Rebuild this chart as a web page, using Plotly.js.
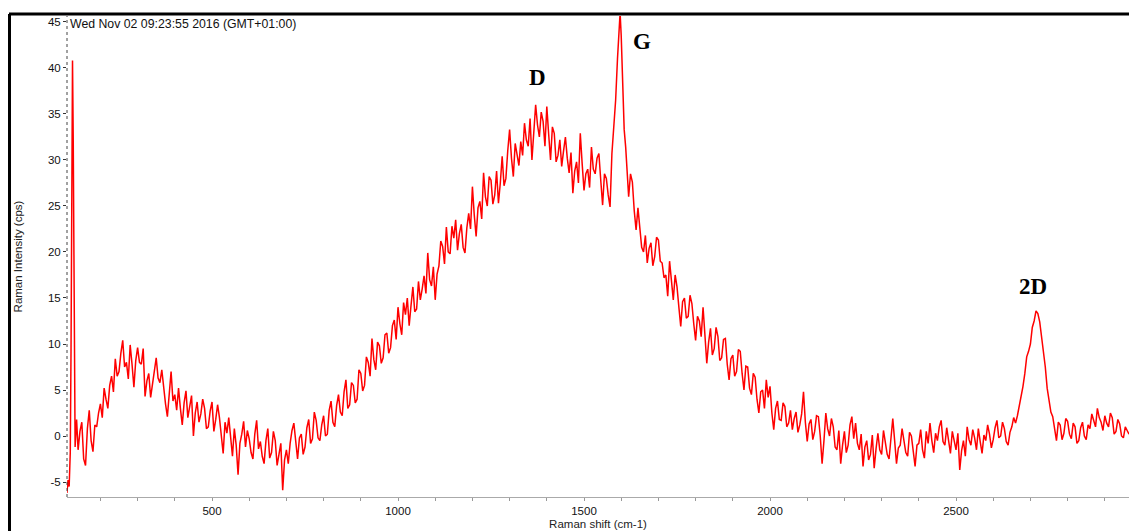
<!DOCTYPE html>
<html>
<head>
<meta charset="utf-8">
<script src="https://cdn.plot.ly/plotly-3.0.1.min.js"></script>
<style>
html,body{margin:0;padding:0;background:#fff;}
#chart{width:1129px;height:531px;}
</style>
</head>
<body>
<div id="chart"></div>
<script>
// Raman shift (cm-1)
const shift = [
110,113,116,119,121,123,125,127,129,132,136,
140,145,150,155,160,165,170,175,180,185,190,195,
200,205,210,215,220,225,230,235,240,245,250,255,260,265,270,275,280,285,290,295,
300,305,310,315,320,325,330,335,340,345,350,355,360,365,370,375,380,385,390,395,
400,405,410,415,420,425,430,435,440,445,450,455,460,465,470,475,480,485,490,495,
500,505,510,515,520,525,530,535,540,545,550,555,560,565,570,575,580,585,590,595,
600,605,610,615,620,625,630,635,640,645,650,655,660,665,670,675,680,685,690,695,
700,705,710,715,720,725,730,735,740,745,750,755,760,765,770,775,780,785,790,795,
800,805,810,815,820,825,830,835,840,845,850,855,860,865,870,875,880,885,890,895,
900,905,910,915,920,925,930,935,940,945,950,955,960,965,970,975,980,985,990,995,
1000,1005,1010,1015,1020,1025,1030,1035,1040,1045,1050,1055,1060,1065,1070,1075,1080,1085,1090,1095,
1100,1105,1110,1115,1120,1125,1130,1135,1140,1145,1150,1155,1160,1165,1170,1175,1180,1185,1190,1195,
1200,1205,1210,1215,1220,1225,1230,1235,1240,1245,1250,1255,1260,1265,1270,1275,1280,1285,1290,1295,
1300,1305,1310,1315,1320,1325,1330,1335,1340,1345,1350,1355,1360,1365,1370,1375,1380,1385,1390,1395,
1400,1405,1410,1415,1420,1425,1430,1435,1440,1445,1450,1455,1460,1465,1470,1475,1480,1485,1490,1495,
1500,1505,1510,1515,1520,1525,1530,1535,1540,1545,1550,1555,1560,1565,1570,
1575,1580,1585,1590,1594,1597,1600,1604,1608,1612,1616,
1620,1625,1630,1635,1640,1645,1650,1655,1660,1665,1670,1675,1680,1685,1690,1695,
1700,1705,1710,1715,1720,1725,1730,1735,1740,1745,1750,1755,1760,1765,1770,1775,1780,1785,1790,1795,
1800,1805,1810,1815,1820,1825,1830,1835,1840,1845,1850,1855,1860,1865,1870,1875,1880,1885,1890,1895,
1900,1905,1910,1915,1920,1925,1930,1935,1940,1945,1950,1955,1960,1965,1970,1975,1980,1985,1990,1995,
2000,2005,2010,2015,2020,2025,2030,2035,2040,2045,2050,2055,2060,2065,2070,2075,2080,2085,2090,2095,
2100,2105,2110,2115,2120,2125,2130,2135,2140,2145,2150,2155,2160,2165,2170,2175,2180,2185,2190,2195,
2200,2205,2210,2215,2220,2225,2230,2235,2240,2245,2250,2255,2260,2265,2270,2275,2280,2285,2290,2295,
2300,2305,2310,2315,2320,2325,2330,2335,2340,2345,2350,2355,2360,2365,2370,2375,2380,2385,2390,2395,
2400,2405,2410,2415,2420,2425,2430,2435,2440,2445,2450,2455,2460,2465,2470,2475,2480,2485,2490,2495,
2500,2505,2510,2515,2520,2525,2530,2535,2540,2545,2550,2555,2560,2565,2570,2575,2580,2585,2590,2595,
2600,2605,2610,2615,2620,2625,2630,2635,2640,2645,2650,2655,2660,2665,2670,2675,2680,2685,2690,2695,
2700,2705,2710,2715,2720,2725,2730,2735,2740,2745,2750,2755,2760,2765,2770,2775,2780,2785,2790,2795,
2800,2805,2810,2815,2820,2825,2830,2835,2840,2845,2850,2855,2860,2865,2870,2875,2880,2885,2890,2895,
2900,2905,2910,2915,2920,2925,2930,2935,2940,2945,2950,2955,2960,2965];

// Raman intensity (cps)
const intensity = [
-6.2,-4.8,-5.5,-1.8,9.2,26,40.8,32,20,-1.2,1.8,
-1.5,0.5,1.5,-2.5,-3.2,0.8,2.8,-0.5,-1.7,1.2,1.0,2.5,
3.5,2.0,5.2,4.0,3.0,5.5,6.5,4.8,8.4,6.5,7.0,9.0,10.4,7.5,8.0,6.2,9.9,7.8,5.3,8.2,
9.6,8.0,7.8,9.5,4.3,6.0,6.8,4.2,5.5,7.0,8.5,6.3,5.8,7.2,5.0,3.5,2.1,4.8,7.0,3.8,
4.5,2.8,5.2,3.0,1.2,3.6,4.9,2.0,3.2,4.4,0.0,2.5,3.7,1.5,2.4,4.0,3.0,0.8,1.0,2.7,
3.7,0.5,1.8,3.4,2.0,0.2,-1.9,1.5,0.3,2.0,-0.5,-2.2,0.8,-1.0,-4.2,-0.8,0.2,1.6,-1.2,0.6,
-0.3,-1.8,-2.5,0.2,1.7,-1.4,-0.6,-2.2,-3.0,-0.5,0.8,-2.4,-1.8,0.5,-0.5,-3.2,-2.0,-0.8,-5.9,-2.6,
-1.5,-3.0,-0.8,0.6,1.4,-1.0,-2.5,-0.2,0.2,-2.0,-1.2,0.9,1.8,-0.8,-0.3,2.6,1.7,-0.2,-0.5,1.2,
2.2,0.0,0.2,2.8,3.8,1.5,1.0,3.3,4.5,2.6,2.2,4.8,6.1,3.0,3.4,5.8,5.5,3.6,4.0,7.2,
6.8,4.9,5.5,8.6,8.0,6.5,10.6,8.3,7.2,10.2,9.8,7.9,8.5,11.0,11.2,9.0,9.6,12.0,12.6,10.5,
14.0,12.2,11.0,14.5,13.2,15.0,12.0,14.2,16.2,13.5,13.8,16.8,14.8,16.0,17.4,15.5,19.9,17.0,16.3,18.4,
14.8,17.6,18.5,21.2,20.6,18.7,22.7,20.0,19.8,22.8,21.5,23.5,20.2,22.0,23.0,20.5,19.9,22.6,24.2,22.5,
27.1,24.0,21.7,24.8,25.5,23.6,28.6,26.0,25.0,28.2,27.8,25.2,26.2,28.8,25.3,27.5,30.4,27.2,28.0,31.0,
33.3,30.2,28.2,31.8,30.7,29.4,32.0,30.5,34.0,32.2,31.5,34.5,30.0,33.0,36.0,33.8,32.5,35.2,34.2,31.5,
35.8,32.8,30.0,33.6,32.9,29.8,30.5,32.2,29.3,31.0,32.5,30.2,28.6,30.8,26.4,28.8,29.8,27.5,32.9,29.6,
26.7,28.5,29.0,27.0,31.4,29.0,28.5,30.2,30.7,27.8,25.1,28.5,28.0,26.2,24.9,
30.7,33.3,36.5,41.0,44.5,46.0,43.5,38.5,33.3,31.4,28.5,
26.0,28.5,27.6,24.5,22.4,24.8,22.7,20.5,20.0,21.8,18.8,20.4,21.0,18.5,19.5,21.6,
21.3,19.0,18.8,17.2,17.5,15.2,19.0,16.8,14.8,17.5,16.2,14.0,11.9,14.6,15.0,12.8,13.0,15.3,14.4,12.2,
10.4,13.0,12.5,10.8,14.0,11.0,7.9,10.2,11.7,8.8,9.5,11.8,10.8,8.2,8.5,10.5,10.6,7.8,6.1,8.4,
8.8,6.5,7.0,9.4,9.2,6.8,5.0,7.6,7.5,5.2,4.5,6.8,6.4,4.0,2.5,4.8,5.0,3.0,6.1,4.2,
5.4,2.5,0.7,3.0,3.8,1.8,1.7,3.6,3.2,1.0,1.4,2.8,0.7,1.9,2.6,0.4,1.2,2.4,4.8,1.5,
-0.6,1.3,1.8,-0.4,0.5,2.2,2.1,0.0,-3.0,-0.5,2.5,0.8,0.0,1.9,1.0,-1.2,-1.5,0.6,-3.0,-1.0,
0.5,-1.8,-1.0,1.2,2.1,-0.3,1.4,-0.8,-1.5,0.2,-3.3,-1.2,-0.5,-2.6,-2.0,0.1,-3.5,-1.4,0.3,-1.5,
-2.0,0.6,-0.5,-2.0,-2.5,-0.2,1.9,-0.5,-3.0,-1.3,-1.0,0.8,-0.3,-1.8,-2.2,0.4,0.0,-1.6,-3.3,-1.0,
-0.8,0.7,-1.5,-2.4,0.5,-0.8,1.4,-0.5,-1.8,0.3,-0.5,1.0,1.7,-0.6,-1.0,0.9,-0.3,-1.9,0.5,-0.7,
-1.5,0.3,-3.7,-1.6,-0.5,-2.2,1.0,-0.4,-1.0,0.7,-0.2,-1.5,0.8,-0.6,-1.9,0.1,-0.5,1.2,0.2,-1.3,
-0.4,0.9,1.7,-0.2,0.0,1.5,0.8,-0.6,-1.0,0.4,1.0,2.0,1.4,2.2,3.2,4.0,5.4,6.8,8.6,9.2,
10.0,11.8,12.5,13.6,13.3,12.4,10.8,9.4,7.5,5.2,3.9,2.6,2.1,0.8,-0.5,1.5,1.2,-0.4,0.3,1.9,
1.6,0.2,-0.3,1.4,1.0,-0.8,-0.5,0.9,1.5,0.0,-0.4,1.2,0.8,2.4,1.8,1.0,3.0,2.0,1.5,0.6,
2.2,1.4,1.0,2.5,2.0,0.2,0.5,1.8,1.3,0.0,-0.2,1.0,0.6,0.2];

// Peak labels
const peakNames = ["D","G","2D"];
const peakX = [1376,1656,2707];
const peakY = [39.0,42.9,16.3];

const yTicks = [-5,0,5,10,15,20,25,30,35,40,45];
const xTicks = [500,1000,1500,2000,2500];
const stamp = "Wed Nov 02 09:23:55 2016 (GMT+01:00)";

const M = {l:67, r:0, t:16, b:34};
const W = 1129, H = 531;
const pw = W - M.l - M.r, ph = H - M.t - M.b;
const px2x = p => p / pw;
const px2y = p => p / ph;

const trace = {
  x: shift, y: intensity, type: 'scatter', mode: 'lines',
  line: {color: '#ff0000', width: 1.5}, hoverinfo: 'skip'
};

const annotations = peakNames.map((n, i) => ({
  x: peakX[i], y: peakY[i], xref: 'x', yref: 'y', text: n, showarrow: false,
  font: {family: 'Liberation Serif, Times New Roman, serif', size: 23, color: '#000', weight: 'bold'},
  xanchor: 'center', yanchor: 'middle'
}));
annotations.push({
  x: 0, y: 1, xref: 'paper', yref: 'paper', xanchor: 'left', yanchor: 'top',
  xshift: 1, yshift: 1,
  text: stamp, showarrow: false,
  font: {family: 'Liberation Sans, Arial, sans-serif', size: 12.3, color: '#111'}
});

const layout = {
  width: W, height: H,
  margin: M,
  paper_bgcolor: '#fff', plot_bgcolor: '#fff',
  showlegend: false,
  font: {family: 'Liberation Sans, Arial, sans-serif', size: 11.5, color: '#111'},
  xaxis: {
    range: [110.2, 2965], tickvals: xTicks, ticktext: xTicks.map(String),
    ticks: 'outside', ticklen: 3, tickcolor: '#999', showgrid: false, zeroline: false,
    showline: true, linecolor: '#aaa', linewidth: 1,
    minor: {dtick: 100, tick0: 0, ticks: 'outside', ticklen: 3, tickcolor: '#999', showgrid: false},
    tickfont: {size: 11.5, color: '#111'},
    title: {text: 'Raman shift (cm-1)', font: {size: 11.5, color: '#222'}, standoff: 4}
  },
  yaxis: {
    range: [-6.63, 45.65], tickvals: yTicks, ticktext: yTicks.map(String),
    ticks: 'outside', ticklen: 3, tickcolor: '#333', showgrid: false, zeroline: false,
    showline: false,
    tickfont: {size: 11.5, color: '#111'},
    title: {text: 'Raman Intensity (cps)', font: {size: 11.5, color: '#222'}, standoff: 22}
  },
  annotations: annotations,
  shapes: [
    {type: 'line', xref: 'paper', yref: 'paper', x0: 0, x1: 0, y0: 0, y1: 1,
     line: {color: '#444', width: 1, dash: 'dot'}},
    {type: 'line', xref: 'paper', yref: 'paper', x0: px2x(9 - M.l), x1: px2x(W - M.l + 5),
     y0: 1 + px2y(M.t - 14), y1: 1 + px2y(M.t - 14), line: {color: '#000', width: 3}},
    {type: 'line', xref: 'paper', yref: 'paper', x0: px2x(9.5 - M.l), x1: px2x(9.5 - M.l),
     y0: -px2y(M.b + 5), y1: 1 + px2y(M.t - 14), line: {color: '#000', width: 3}}
  ]
};

Plotly.newPlot('chart', [trace], layout, {staticPlot: true, displayModeBar: false});
</script>
</body>
</html>
